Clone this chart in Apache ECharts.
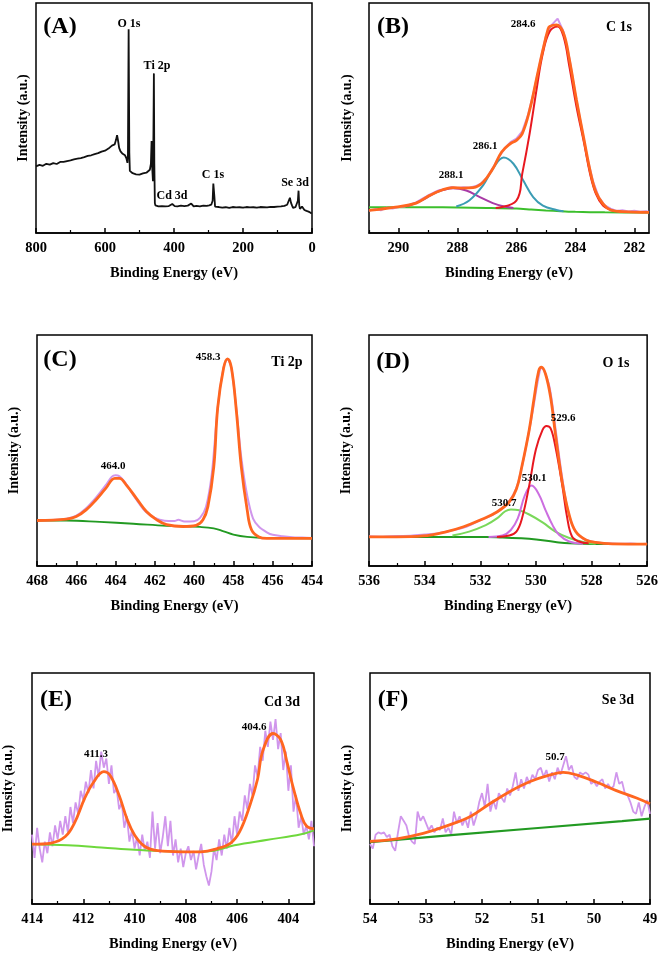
<!DOCTYPE html>
<html><head><meta charset="utf-8">
<script src="https://cdn.jsdelivr.net/npm/echarts@6/dist/echarts.min.js"></script>
<style>html,body{margin:0;padding:0;background:#fff}#c{width:661px;height:955px}</style>
</head><body><div id="c"></div>
<script>
// ---------- (A) survey ----------
const surveyBE = [800,790,780,770,760,750,740,730,720,710,
 700,690,680,670,660,650,640,630,620,610,
 600,595,590,585,580,576,572,568,565,562,
 559,555,550,546,542,538,535,533.5,531.5,529.5,
 528,524,520,515,510,505,500,495,490,485,
 480,475,470,467,465,463,461,459.5,458.3,457,
 455.5,454,450,445,440,435,430,425,420,415,
 410,405,402,398,390,380,370,360,355,350,
 347,343,335,325,315,305,298,292,288,286,
 284.6,283,281,278,270,260,250,240,230,220,
 210,200,190,180,170,160,150,140,130,120,
 110,100,90,80,72,68,64,61,58,55,
 52,48,44,41,39,37,35,32,29,26,
 24,22,19,16,13,10,7,4,1,0];
const surveyInt = [29.0,29.6,29.2,30.1,29.7,30.4,30.0,30.9,30.9,31.3,
 31.6,32.0,32.3,32.6,33.0,33.5,33.8,34.3,34.7,35.4,
 35.8,36.1,36.7,37.3,38.0,37.2,38.5,40.5,42.5,40.0,
 37.0,35.5,34.6,34.0,33.8,32.5,30.5,34.0,88.6,35.0,
 27.0,26.3,26.0,25.8,25.5,25.7,25.4,25.6,25.9,26.0,
 26.2,26.8,27.5,30.0,40.0,28.0,22.5,45.0,69.4,30.0,
 13.0,12.0,11.8,11.6,11.9,11.7,11.9,11.6,11.8,11.7,
 12.0,12.6,12.2,11.7,11.6,11.9,11.7,11.9,12.0,12.8,
 12.2,11.6,11.8,11.6,11.9,11.8,12.0,12.3,14.0,21.5,
 22.3,16.0,11.5,11.0,11.3,11.0,11.2,10.9,11.3,11.1,
 11.2,11.0,11.3,11.1,11.2,11.0,11.3,11.2,11.1,11.4,
 11.3,11.5,11.6,11.8,12.3,13.8,15.3,13.2,12.0,10.9,
 11.4,11.2,11.8,14.0,18.4,12.0,10.5,11.0,11.5,12.0,
 11.3,10.0,10.2,9.6,9.9,9.3,9.1,8.8,8.4,8.3];

// ---------- (B) C 1s ----------
const c1sRawBE = [291.0,290.8,290.6,290.4,290.2,290.0,289.8,289.6,289.4,289.2,
 289.0,288.8,288.6,288.4,288.2,288.0,287.8,287.6,287.4,287.2,
 287.0,286.8,286.6,286.4,286.2,286.0,285.8,285.6,285.4,285.2,
 285.0,284.8,284.6,284.4,284.2,284.0,283.8,283.6,283.4,283.2,
 283.0,282.8,282.6,282.4,282.2,282.0,281.8,281.6,281.5];
const c1sRawInt = [9.6,10.4,9.9,11.0,10.6,11.3,11.5,12.4,13.3,14.8,
 16.3,17.6,18.7,19.0,20.0,19.6,19.9,19.7,20.3,21.5,
 24.0,28.2,32.8,36.8,39.5,41.0,44.2,51.5,62.0,74.0,
 85.5,90.5,93.2,87.5,76.0,60.5,47.0,33.0,22.5,15.5,
 12.0,10.6,9.6,9.9,9.4,9.7,9.2,9.5,9.1];
const c1sFitBE = [291,290.1,289.4,288.95,288.5,288.15,287.8,287.47,287.13,286.8,
 286.5,286.2,286.0,285.8,285.55,285.3,285.1,284.93,284.87,284.64,
 284.4,284.2,283.96,283.7,283.5,283.3,283.06,282.8,282.4,281.5];
const c1sFitInt = [9.8,11.2,13.0,16.3,18.8,19.7,19.5,19.7,22.1,27.9,
 35.2,38.9,40.3,43.2,53.4,68.0,79.6,88.4,89.8,90.5,
 86.9,75.3,57.8,40.3,27.2,17.8,12.7,10.0,9.3,9.0];
const c1sPk1BE = [286.7,286.0,285.8,285.55,285.3,285.1,284.87,284.6,284.4,284.2,283.96,283.7,283.5,283.3,283.06,282.8,282.6];
const c1sPk1Int = [10.9,14.1,25.8,43.2,63.6,78.2,87.6,89.8,85.4,72.3,54.9,38.9,25.8,17.0,11.9,10.0,9.5];
const c1sPk2BE = [288.04,287.6,287.13,286.8,286.43,286.1,285.77,285.43,285.1,284.64,284.4];
const c1sPk2Int = [11.5,14.1,20.7,27.9,32.8,30.1,22.9,15.6,11.9,10.0,9.5];
const c1sPk3BE = [289.73,289.17,288.7,288.15,287.7,287.24,286.8,286.45,286.1];
const c1sPk3Int = [11.5,14.4,17.8,19.5,18.5,15.6,13.0,11.6,10.9];
const c1sBgBE = [291,290,289,288,287,286,285.5,285,284.5,284,283,281.5];
const c1sBgInt = [11.2,11.2,11.2,11.1,10.9,10.6,10.2,9.8,9.5,9.2,9.0,8.9];

// ---------- (C) Ti 2p ----------
const ti2pRawBE = [468,467.5,467,466.5,466,465.5,465,464.5,464.2,464.0,
 463.8,463.5,463.0,462.5,462.0,461.5,461.0,460.8,460.5,460.0,
 459.7,459.4,459.1,458.8,458.5,458.3,458.1,457.85,457.6,457.3,
 457.0,456.7,456.3,456.0,455.5,455,454.5,454];
const ti2pRawInt = [19.8,19.8,20.0,20.5,21.8,25.0,29.6,35.0,38.6,39.3,
 38.8,36.0,29.5,23.8,20.8,19.6,19.5,20.0,19.3,19.4,
 20.8,25.5,40.0,68.6,86.0,89.5,85.5,68.0,47.0,30.5,
 20.5,17.0,14.6,13.5,12.9,12.5,12.3,12.1];
const ti2pFitBE = [468,466.5,466.0,465.5,465.0,464.5,464.04,463.8,463.45,462.94,
 462.43,461.9,461.4,460.56,459.9,459.55,459.3,459.0,458.8,458.5,
 458.3,458.1,457.85,457.6,457.3,457.08,456.7,456.3,454];
const ti2pFitInt = [19.7,20.3,21.4,24.3,28.6,33.6,37.9,37.9,35.0,29.3,
 23.6,20.0,17.9,17.1,17.6,20.0,25.7,42.9,68.6,85.7,
 89.7,85.7,67.1,42.9,24.3,15.7,12.6,12.0,12.0];
const ti2pBgBE = [468,466.5,464.8,463.1,461.4,459.7,459.0,458.5,458.0,457.3,456.3,454];
const ti2pBgInt = [19.7,19.7,19.1,18.3,17.4,16.9,16.3,15.0,13.6,12.6,12.1,12.0];

// ---------- (D) O 1s ----------
const o1sRawBE = [536,535.5,535,534.5,534,533.5,533,532.5,532,531.5,
 531,530.7,530.5,530.3,530.1,529.9,529.8,529.7,529.5,529.3,
 529.1,528.9,528.7,528.5,528.3,528,527.7,527.4,527,526.6,526.3,526];
const o1sRawInt = [12.9,12.7,13.0,13.1,13.6,14.2,15.5,17.0,19.8,22.6,
 27.5,33.8,43.0,55.0,68.0,82.0,85.8,84.5,77.0,60.0,
 42.0,27.0,18.0,13.8,11.8,10.6,10.1,9.8,9.6,9.7,9.5,9.6];
const o1sFitBE = [536,535.0,534.06,533.2,532.6,532.0,531.4,530.96,530.7,530.5,
 530.24,530.06,529.9,529.8,529.65,529.47,529.3,529.05,528.8,528.57,
 528.2,527.85,527.25,526];
const o1sFitInt = [12.6,12.6,13.0,14.9,17.0,19.9,23.4,27.7,33.3,43.3,
 58.9,73.0,84.4,86.1,83.0,73.0,57.4,36.2,22.0,14.9,
 11.3,10.2,9.6,9.5];
const o1sPk1BE = [531.4,530.96,530.7,530.5,530.24,530.0,529.76,529.62,529.47,529.3,529.05,528.87,528.7,528.45,528.1];
const o1sPk1Int = [12.6,13.2,14.9,20.6,34.8,50.4,58.9,60.6,59.6,51.8,34.8,20.6,12.8,10.6,9.8];
const o1sPk2BE = [531.7,531.2,530.9,530.65,530.4,530.15,529.9,529.65,529.4,529.17,528.8,528.3];
const o1sPk2Int = [12.6,13.2,15.6,20.6,30.5,34.8,31.2,24.1,17.7,13.5,10.6,9.6];
const o1sPk3BE = [533.0,532.4,531.8,531.4,531.1,530.9,530.6,530.24,529.76,529.3,528.8,528.3,527.85];
const o1sPk3Int = [13.2,14.9,17.7,20.6,23.7,24.5,24.1,22.3,18.9,14.9,12.1,10.4,9.6];
const o1sBgBE = [536,531.8,531.2,530.24,529.3,528.8,527.85,526];
const o1sBgInt = [12.6,12.6,12.3,11.8,10.4,9.8,9.5,9.5];

// ---------- (E) Cd 3d ----------
const cd3dRawBE = [414.0,413.9,413.8,413.7,413.6,413.5,413.4,413.3,413.2,413.1,
 413.0,412.9,412.8,412.7,412.6,412.5,412.4,412.3,412.2,412.1,
 412.0,411.9,411.8,411.7,411.6,411.5,411.4,411.3,411.2,411.1,
 411.0,410.9,410.8,410.7,410.6,410.5,410.4,410.3,410.2,410.1,
 410.0,409.9,409.8,409.7,409.6,409.5,409.4,409.3,409.2,409.1,
 409.0,408.9,408.8,408.7,408.6,408.5,408.4,408.3,408.2,408.1,
 408.0,407.9,407.8,407.7,407.6,407.5,407.4,407.3,407.2,407.1,
 407.0,406.9,406.8,406.7,406.6,406.5,406.4,406.3,406.2,406.1,
 406.0,405.9,405.8,405.7,405.6,405.5,405.4,405.3,405.2,405.1,
 405.0,404.9,404.8,404.7,404.6,404.5,404.4,404.3,404.2,404.1,
 404.0,403.9,403.8,403.7,403.6,403.5,403.4,403.3,403.2,403.1,403.0];
const cd3dRawInt = [30,20,33,24,18,27,22,31,25,34,
 28,36,30,38,31,42,35,44,39,49,
 45,53,48,58,50,62,55,66,59,63,
 52,60,48,50,41,44,33,38,27,32,
 24,29,21,30,23,27,20,40,24,35,
 22,29,38,25,36,21,28,18,24,16,
 22,25,19,23,15,21,26,17,12,8,
 14,24,19,28,21,30,24,33,26,38,
 30,40,36,47,41,52,47,60,55,68,
 62,75,68,79,71,80,67,74,58,66,
 49,60,40,47,33,38,30,34,28,36,25];
const cd3dFitBE = [414,413.25,412.7,412.35,411.95,411.6,411.2,410.95,410.6,410.3,
 410.0,409.6,409.1,408.2,407.4,406.8,406.25,405.9,405.5,405.2,
 405.0,404.6,404.3,404.05,403.8,403.5,403.3,403];
const cd3dFitInt = [25.9,26.4,29.2,34.9,45.6,52.7,57.3,55.6,47.0,37.0,
 29.9,24.9,23.1,22.6,22.6,23.9,26.4,31.3,42.7,54.1,
 66.2,73.8,71.2,61.3,49.9,38.5,33.9,32.5];
const cd3dBgBE = [414,412.6,411.3,410.0,408.7,407.95,406.9,406.1,404.8,403.5,403];
const cd3dBgInt = [25.9,25.4,24.5,23.5,22.8,22.5,23.1,25.4,27.8,30.2,31.9];

// ---------- (F) Se 3d ----------
const se3dRawBE = [54.00,53.95,53.90,53.85,53.80,53.75,53.70,53.65,53.60,53.55,
 53.50,53.45,53.40,53.35,53.30,53.25,53.20,53.15,53.10,53.05,
 53.00,52.95,52.90,52.85,52.80,52.75,52.70,52.65,52.60,52.55,
 52.50,52.45,52.40,52.35,52.30,52.25,52.20,52.15,52.10,52.05,
 52.00,51.95,51.90,51.85,51.80,51.75,51.70,51.65,51.60,51.55,
 51.50,51.45,51.40,51.35,51.30,51.25,51.20,51.15,51.10,51.05,
 51.00,50.95,50.90,50.85,50.80,50.75,50.70,50.65,50.60,50.55,
 50.50,50.45,50.40,50.35,50.30,50.25,50.20,50.15,50.10,50.05,
 50.00,49.95,49.90,49.85,49.80,49.75,49.70,49.65,49.60,49.55,
 49.50,49.45,49.40,49.35,49.30,49.25,49.20,49.15,49.10,49.05,49.00];
const se3dRawInt = [26,24,30,31,30.5,31,29,30,25,23,
 31,38,36,34,29,27,26,40,36,38,
 35,32,34,31,33,32,37,31,33,30,
 40,35,38,34,37,33,40,34,38,44,
 48,42,52,40,45,41,48,46,44,50,
 47,51,57,49,54,50,55,52,56,54,
 58,59,55,58,53,57,54,59,56,60,
 64,58,60,55,54,57,56,57,56,52,
 53,51,53,54,50,52,50,51,57,52,
 53,48,47,44,40,39,44,38,42,45,39];
const se3dFitBE = [54,53.52,53.05,52.63,52.2,51.86,51.5,51.14,50.8,50.55,50.3,49.95,49.6,49.24,49];
const se3dFitInt = [27.1,28.2,30.6,33.8,38.0,43.4,48.7,53.0,55.8,57.0,55.8,52.7,49.1,45.9,43.4];
const se3dBgBE = [54,52.5,51,49.5,49];
const se3dBgInt = [26.8,29.9,32.9,35.9,37.0];

// ---------- tick labels ----------
const bMajor = [282,284,286,288,290];
const bMinor = [283,285,287,289,291];
const eMajor = [404,406,408,410,412,414];
const eMinor = [403,405,407,409,411,413];

const FONT = 'Liberation Serif';
const zip = (xs, ys) => xs.map((x, i) => [x, ys[i]]);

const grids = [
  {left: 36, top: 3, width: 276, height: 230},
  {left: 369, top: 3, width: 280, height: 230},
  {left: 37, top: 335, width: 275, height: 231},
  {left: 369, top: 335, width: 279, height: 231},
  {left: 31, top: 673, width: 283, height: 231},
  {left: 370, top: 673, width: 280, height: 231}
].map(g => Object.assign(g, {show: true, borderColor: '#000', borderWidth: 1.5, containLabel: false}));

const txt = {fontFamily: FONT, fontWeight: 'bold', fontSize: 14.5, color: '#000'};

function xAx(i, min, max, extra) {
  return Object.assign({
    type: 'value', gridIndex: i, min: min, max: max, inverse: true, position: 'bottom',
    axisLine: {show: true, onZero: false, lineStyle: {color: '#000', width: 1.5}},
    axisTick: {show: true, inside: true, length: 5, lineStyle: {color: '#000', width: 1.5}},
    minorTick: {show: true, splitNumber: 2, length: 3, lineStyle: {color: '#000', width: 1.2}},
    axisLabel: Object.assign({margin: 8, showMinLabel: true, showMaxLabel: true}, txt),
    splitLine: {show: false},
    name: 'Binding Energy (eV)', nameLocation: 'middle', nameGap: 33,
    nameTextStyle: Object.assign({}, txt, {fontSize: 14.5})
  }, extra || {});
}
const xAxes = [
  xAx(0, 0, 800, {interval: 200}),
  xAx(1, 281.5, 291, {minorTick: {show: false},
      axisTick: {show: true, inside: true, length: 5, customValues: bMajor, lineStyle: {color: '#000', width: 1.5}},
      axisLabel: Object.assign({margin: 8, customValues: bMajor}, txt)}),
  xAx(2, 454, 468, {interval: 2}),
  xAx(3, 526, 536, {interval: 2}),
  xAx(4, 403, 414, {minorTick: {show: false},
      axisTick: {show: true, inside: true, length: 5, customValues: eMajor, lineStyle: {color: '#000', width: 1.5}},
      axisLabel: Object.assign({margin: 8, customValues: eMajor}, txt)}),
  xAx(5, 49, 54, {interval: 1}),
  // minor tick overlays for B and E
  {type: 'value', gridIndex: 1, min: 281.5, max: 291, inverse: true, position: 'bottom',
   axisLine: {show: false}, axisLabel: {show: false}, splitLine: {show: false},
   axisTick: {show: true, inside: true, length: 3, customValues: bMinor, lineStyle: {color: '#000', width: 1.2}}},
  {type: 'value', gridIndex: 4, min: 403, max: 414, inverse: true, position: 'bottom',
   axisLine: {show: false}, axisLabel: {show: false}, splitLine: {show: false},
   axisTick: {show: true, inside: true, length: 3, customValues: eMinor, lineStyle: {color: '#000', width: 1.2}}}
];

const yGaps = [6, 15, 16, 16, 17, 16];
const yAxes = grids.map((g, i) => ({
  type: 'value', gridIndex: i, min: 0, max: 100,
  axisLine: {show: false}, axisTick: {show: false}, axisLabel: {show: false}, splitLine: {show: false},
  name: 'Intensity (a.u.)', nameLocation: 'middle', nameGap: yGaps[i], nameRotate: 90,
  nameTextStyle: Object.assign({}, txt, {fontSize: 14})
}));

function line(i, xs, ys, color, width, smooth, z) {
  return {type: 'line', xAxisIndex: i, yAxisIndex: i, data: zip(xs, ys), showSymbol: false, symbol: 'none',
    smooth: smooth, lineStyle: {color: color, width: width}, z: z, silent: true, animation: false};
}

const RAW = '#d096ec', ORANGE = '#ff6620', RED = '#e81820', TEAL = '#3b9cb4', MAG = '#a83aa6',
      VIOLET = '#cc6ee0', LGREEN = '#7ad85a', DGREEN = '#229a22', BGREEN = '#3cbf2c', EGREEN = '#6ed83c';

const series = [
  line(0, surveyBE, surveyInt, '#111', 1.8, false, 3),

  line(1, c1sBgBE, c1sBgInt, BGREEN, 2, 0.3, 2),
  line(1, c1sRawBE, c1sRawInt, RAW, 2, false, 2),
  line(1, c1sPk3BE, c1sPk3Int, MAG, 2, 0.4, 3),
  line(1, c1sPk2BE, c1sPk2Int, TEAL, 2, 0.4, 3),
  line(1, c1sPk1BE, c1sPk1Int, RED, 2, 0.4, 3),
  line(1, c1sFitBE, c1sFitInt, ORANGE, 2.8, 0.4, 4),

  line(2, ti2pBgBE, ti2pBgInt, DGREEN, 1.8, 0.4, 2),
  line(2, ti2pRawBE, ti2pRawInt, RAW, 2, 0.3, 2),
  line(2, ti2pFitBE, ti2pFitInt, ORANGE, 2.8, 0.4, 4),

  line(3, o1sBgBE, o1sBgInt, DGREEN, 2, 0.4, 2),
  line(3, o1sRawBE, o1sRawInt, RAW, 2, 0.3, 2),
  line(3, o1sPk3BE, o1sPk3Int, LGREEN, 2, 0.4, 3),
  line(3, o1sPk2BE, o1sPk2Int, VIOLET, 2, 0.4, 3),
  line(3, o1sPk1BE, o1sPk1Int, RED, 2, 0.4, 3),
  line(3, o1sFitBE, o1sFitInt, ORANGE, 2.8, 0.4, 4),

  line(4, cd3dRawBE, cd3dRawInt, RAW, 1.8, false, 2),
  line(4, cd3dBgBE, cd3dBgInt, EGREEN, 2, 0.4, 3),
  line(4, cd3dFitBE, cd3dFitInt, ORANGE, 2.8, 0.4, 4),

  line(5, se3dRawBE, se3dRawInt, RAW, 1.8, false, 2),
  line(5, se3dBgBE, se3dBgInt, DGREEN, 2.2, false, 3),
  line(5, se3dFitBE, se3dFitInt, ORANGE, 2.8, 0.4, 4)
];

function T(text, x, y, size) {
  return {type: 'text', x: x, y: y, z: 100, silent: true,
    style: {text: text, font: 'bold ' + size + 'px "' + FONT + '"', fill: '#000', align: 'center', verticalAlign: 'middle'}};
}
const graphics = [
  T('(A)', 60, 27, 24), T('O 1s', 129, 24, 12), T('Ti 2p', 157, 66, 12), T('Cd 3d', 172, 196, 12),
  T('C 1s', 213, 175, 12), T('Se 3d', 295, 183, 12),
  T('(B)', 393, 27, 24), T('C 1s', 619, 27, 14), T('284.6', 523, 24, 11), T('286.1', 485, 146, 11), T('288.1', 451, 175, 11),
  T('(C)', 60, 360, 24), T('Ti 2p', 287, 362, 14), T('464.0', 113, 466, 11), T('458.3', 208, 357, 11),
  T('(D)', 393, 362, 24), T('O 1s', 616, 363, 14), T('529.6', 563, 418, 11), T('530.1', 534, 478, 11), T('530.7', 504, 503, 11),
  T('(E)', 56, 700, 24), T('Cd 3d', 282, 702, 14), T('411.3', 96, 754, 11), T('404.6', 254, 727, 11),
  T('(F)', 393, 700, 24), T('Se 3d', 618, 700, 14), T('50.7', 555, 757, 11)
];

const chart = echarts.init(document.getElementById('c'), null, {renderer: 'canvas'});
chart.setOption({
  animation: false, backgroundColor: '#fff',
  grid: grids, xAxis: xAxes, yAxis: yAxes, series: series, graphic: graphics
});
</script>
</body></html>
